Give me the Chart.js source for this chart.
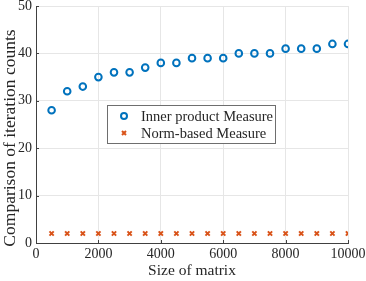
<!DOCTYPE html>
<html>
<head>
<meta charset="utf-8">
<script src="https://cdn.jsdelivr.net/npm/chart.js@4/dist/chart.umd.min.js"></script>
<style>
  html, body { margin: 0; padding: 0; background: #fff; }
  #c { display: block; }
</style>
</head>
<body>
<canvas id="c" width="366" height="281"></canvas>
<script>
// matrix sizes and iteration counts
const sizes = [500, 1000, 1500, 2000, 2500, 3000, 3500, 4000, 4500, 5000,
               5500, 6000, 6500, 7000, 7500, 8000, 8500, 9000, 9500, 10000];
const innerProduct = [28, 32, 33, 35, 36, 36, 37, 38, 38, 39,
                      39, 39, 40, 40, 40, 41, 41, 41, 42, 42];
const normBased = [2, 2, 2, 2, 2, 2, 2, 2, 2, 2,
                   2, 2, 2, 2, 2, 2, 2, 2, 2, 2];
const seriesNames = ["Inner product Measure", "Norm-based Measure"];
const xLabel = "Size of matrix";
const yLabel = "Comparison of iteration counts";

const FONT = "'Liberation Serif', 'Times New Roman', serif";
const TEXT = "#262626";
const AXIS = "#404040";
const BLUE = "#0072BD";
const ORANGE = "#D95319";
Chart.defaults.font.family = FONT;

// legend drawn inside the plot, y label, inward tick marks (matlab look)
const extras = {
  id: "extras",
  afterDraw(chart) {
    const ctx = chart.ctx;
    const a = chart.chartArea;
    const xs = chart.scales.x, ys = chart.scales.y;

    ctx.save();
    ctx.strokeStyle = AXIS;
    ctx.lineWidth = 1;
    ctx.beginPath();
    xs.ticks.forEach(t => {
      const px = Math.round(xs.getPixelForValue(t.value)) + 0.5;
      ctx.moveTo(px, a.bottom); ctx.lineTo(px, a.bottom - 3);
    });
    ys.ticks.forEach(t => {
      const py = Math.round(ys.getPixelForValue(t.value)) + 0.5;
      ctx.moveTo(a.left, py); ctx.lineTo(a.left + 3, py);
    });
    ctx.stroke();
    ctx.restore();

    ctx.save();
    ctx.fillStyle = TEXT;
    ctx.font = "17.5px " + FONT;
    ctx.textAlign = "center";
    ctx.textBaseline = "middle";
    ctx.translate(10, a.top + 132);
    ctx.rotate(-Math.PI / 2);
    ctx.fillText(yLabel, 0, 0);
    ctx.restore();

    ctx.save();
    const x0 = a.left + 71, y0 = a.top + 99, w = 168, h = 38;
    ctx.fillStyle = "#fff";
    ctx.fillRect(x0, y0, w, h);
    ctx.strokeStyle = "#6e6e6e";
    ctx.lineWidth = 1;
    ctx.strokeRect(x0 + 0.5, y0 + 0.5, w, h);
    ctx.font = "14.5px " + FONT;
    ctx.textBaseline = "middle";
    chart.data.datasets.forEach((ds, i) => {
      const cy = y0 + 11 + i * 17;
      const cx = x0 + 17;
      ctx.strokeStyle = ds.borderColor;
      ctx.lineWidth = 2;
      ctx.beginPath();
      if (ds.pointStyle === "circle") {
        ctx.arc(cx, cy, 3, 0, Math.PI * 2);
      } else {
        ctx.moveTo(cx - 2, cy - 2); ctx.lineTo(cx + 2, cy + 2);
        ctx.moveTo(cx + 2, cy - 2); ctx.lineTo(cx - 2, cy + 2);
      }
      ctx.stroke();
      ctx.fillStyle = TEXT;
      ctx.fillText(ds.label, x0 + 34, cy + 1);
    });
    ctx.restore();
  }
};

new Chart(document.getElementById("c"), {
  type: "scatter",
  data: {
    datasets: [
      {
        label: seriesNames[0],
        data: sizes.map((s, i) => ({ x: s, y: innerProduct[i] })),
        pointStyle: "circle",
        pointRadius: 3.3,
        borderWidth: 2,
        borderColor: BLUE,
        backgroundColor: "rgba(0,0,0,0)"
      },
      {
        label: seriesNames[1],
        data: sizes.map((s, i) => ({ x: s, y: normBased[i] })),
        pointStyle: "crossRot",
        pointRadius: 3,
        borderWidth: 2,
        borderColor: ORANGE,
        backgroundColor: ORANGE
      }
    ]
  },
  options: {
    responsive: false,
    animation: false,
    layout: { padding: { top: 5, right: 18, left: 0, bottom: 0 } },
    plugins: {
      legend: { display: false },
      tooltip: { enabled: false }
    },
    scales: {
      x: {
        type: "linear",
        min: 0, max: 10000,
        ticks: {
          stepSize: 2000, color: TEXT, font: { family: FONT, size: 14 }, padding: 3, maxRotation: 0,
          callback: v => String(v)
        },
        grid: { color: "#e6e6e6", drawTicks: false },
        border: { color: AXIS, width: 1 },
        title: { display: true, text: xLabel, color: TEXT, font: { family: FONT, size: 15.5 }, padding: { top: 0, bottom: 1 } },
        afterFit(s) { s.height = 38; s.paddingLeft = 0; s.paddingRight = 0; }
      },
      y: {
        min: 0, max: 50,
        ticks: { stepSize: 10, color: TEXT, font: { family: FONT, size: 14 }, padding: 4, callback: v => String(v) },
        grid: { color: "#e6e6e6", drawTicks: false },
        border: { color: AXIS, width: 1 },
        afterFit(s) { s.width = 36; s.paddingTop = 0; s.paddingBottom = 0; }
      }
    }
  },
  plugins: [extras]
});
</script>
</body>
</html>
